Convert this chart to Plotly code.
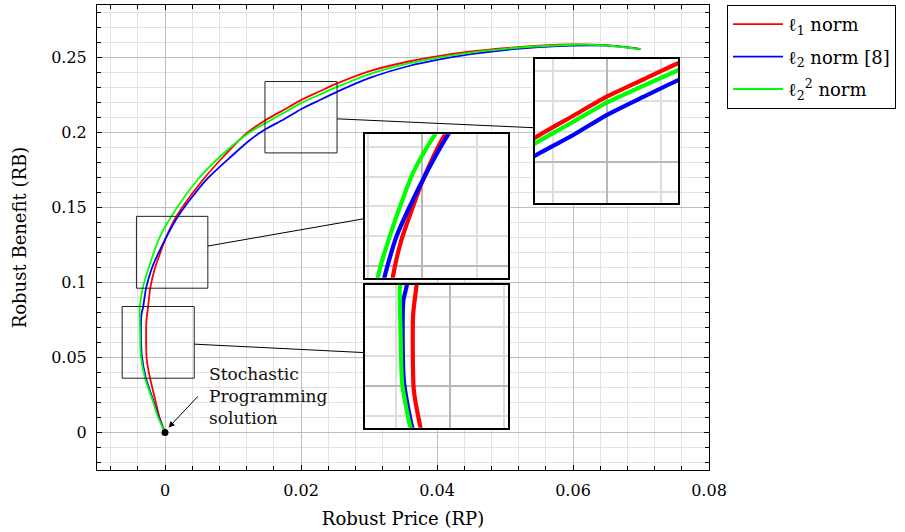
import plotly.graph_objects as go

# ---------------- data ----------------
red_x = [0, -0.0008, -0.0014, -0.0022, -0.00269, -0.00274, -0.0025, -0.00216, -0.00154, -0.00069,
         0.00004, 0.00164, 0.0055, 0.0086, 0.0120, 0.0147, 0.0175, 0.0200, 0.0227, 0.0253,
         0.030, 0.036, 0.040, 0.045, 0.050, 0.055, 0.060, 0.065, 0.0699]
red_y = [0, 0.010, 0.0211, 0.0363, 0.0488, 0.0740, 0.0833, 0.0964, 0.1087, 0.1199,
         0.1288, 0.1439, 0.1680, 0.1840, 0.1995, 0.2080, 0.2152, 0.2216, 0.2273, 0.2327,
         0.2408, 0.2475, 0.2508, 0.2540, 0.2563, 0.2579, 0.2587, 0.2582, 0.2558]

blue_x = [0, -0.0009, -0.0017, -0.00281, -0.00343, -0.00347, -0.00323, -0.00277, -0.00191, -0.00093,
          0.00029, 0.00188, 0.00593, 0.00985, 0.0125, 0.0147, 0.0175, 0.0200, 0.0227, 0.0253,
          0.030, 0.036, 0.040, 0.045, 0.050, 0.055, 0.060, 0.065, 0.0699]
blue_y = [0, 0.010, 0.0211, 0.0363, 0.0520, 0.0784, 0.0833, 0.0964, 0.1098, 0.1199,
          0.1311, 0.1439, 0.1678, 0.1845, 0.1950, 0.2020, 0.2088, 0.2155, 0.2215, 0.2271,
          0.2362, 0.2445, 0.2484, 0.2522, 0.2550, 0.2569, 0.2580, 0.2579, 0.2556]

green_x = [0, -0.0010, -0.0018, -0.00294, -0.00355, -0.00367, -0.00372, -0.00326, -0.00216, -0.00069,
           0.0009, 0.0047, 0.0081, 0.0121, 0.0147, 0.0175, 0.0200, 0.0227, 0.0253,
           0.030, 0.036, 0.040, 0.045, 0.050, 0.055, 0.060, 0.065, 0.0699]
green_y = [0, 0.010, 0.0211, 0.0363, 0.0510, 0.0685, 0.0833, 0.0964, 0.1132, 0.1311,
           0.1439, 0.1680, 0.1840, 0.1990, 0.2061, 0.2132, 0.2196, 0.2252, 0.2304,
           0.2388, 0.2462, 0.2498, 0.2533, 0.2558, 0.2575, 0.2585, 0.2580, 0.2556]

series_names = ["ℓ<sub>1</sub> norm", "ℓ<sub>2</sub> norm [8]", "ℓ<sub>2</sub><sup>2</sup> norm"]
series_colors = ["#ff0000", "#0000ff", "#00ff00"]

sp_x = [0.0]
sp_y = [0.0]
sp_label = "Stochastic<br>Programming<br>solution"

# zoomed (spy) regions: [x0, x1], [y0, y1]
spy_x = [[0.0147, 0.0253], [-0.0042, 0.0063], [-0.0063, 0.0043]]
spy_y = [[0.1864, 0.2340], [0.0962, 0.1441], [0.0362, 0.0840]]

x_range = [-0.01, 0.08]
y_range = [-0.025, 0.285]

# ---------------- layout constants ----------------
W, H = 905, 532
ML, MR, MT, MB = 97, 196, 5, 62
inset_dom_x = [[0.7157, 0.9498], [0.4379, 0.6721], [0.4379, 0.6721]]
inset_dom_y = [[0.5748, 0.8832], [0.4135, 0.7219], [0.0910, 0.3985]]

FONT = "DejaVu Serif"

fig = go.Figure()

xs = [red_x, blue_x, green_x]
ys = [red_y, blue_y, green_y]

for i in range(3):
    fig.add_trace(go.Scatter(x=xs[i], y=ys[i], mode="lines", name=series_names[i],
                             legendgroup="g%d" % i,
                             line=dict(color=series_colors[i], width=1.8,
                                       shape="spline", smoothing=0.8),
                             xaxis="x", yaxis="y"))

fig.add_trace(go.Scatter(x=sp_x, y=sp_y, mode="markers", showlegend=False,
                         marker=dict(color="black", size=7), xaxis="x", yaxis="y"))

for k in range(3):
    ax = str(k + 2)
    for i in range(3):
        fig.add_trace(go.Scatter(x=xs[i], y=ys[i], mode="lines", showlegend=False,
                                 line=dict(color=series_colors[i], width=4.2,
                                           shape="spline", smoothing=0.6),
                                 xaxis="x" + ax, yaxis="y" + ax, hoverinfo="skip"))

main_common = dict(showline=True, linecolor="black", linewidth=1, mirror="allticks",
                   ticks="inside", ticklen=5, tickcolor="black", zeroline=False,
                   showgrid=True, gridcolor="#bdbdbd", gridwidth=1,
                   tickfont=dict(family=FONT, size=16, color="black"),
                   ticklabelstandoff=6)

layout = dict(
    width=W, height=H,
    margin=dict(l=ML, r=MR, t=MT, b=MB),
    paper_bgcolor="white", plot_bgcolor="white",
    font=dict(family=FONT, color="black"),
    xaxis=dict(range=x_range, domain=[0, 1], tick0=0, dtick=0.02,
               minor=dict(dtick=0.004, tick0=0, showgrid=True, gridcolor="#e2e2e2",
                          ticks="inside", ticklen=4, tickcolor="black"),
               title=dict(text="Robust Price (RP)", font=dict(family=FONT, size=18), standoff=13),
               **main_common),
    yaxis=dict(range=y_range, domain=[0, 1], tick0=0, dtick=0.05,
               minor=dict(dtick=0.01, tick0=0, showgrid=True, gridcolor="#e2e2e2",
                          ticks="inside", ticklen=4, tickcolor="black"),
               title=dict(text="Robust Benefit (RB)", font=dict(family=FONT, size=18), standoff=19),
               **main_common),
    legend=dict(x=(727 - ML) / (W - ML - MR), y=1.0, xanchor="left", yanchor="top",
                bordercolor="black", borderwidth=1, bgcolor="white",
                traceorder="grouped", tracegroupgap=6, itemwidth=50,
                font=dict(family=FONT, size=18, color="black")),
    showlegend=True,
)

for k in range(3):
    ax = str(k + 2)
    inset_common = dict(showline=True, linecolor="black", linewidth=2.2, mirror=True,
                        ticks="", showticklabels=False, zeroline=False,
                        showgrid=True, gridcolor="#b8b8b8", gridwidth=2, fixedrange=True)
    layout["xaxis" + ax] = dict(range=spy_x[k], domain=inset_dom_x[k], anchor="y" + ax,
                                tick0=0, dtick=0.02,
                                minor=dict(dtick=0.004, tick0=0, showgrid=True,
                                           gridcolor="#dedede", gridwidth=2),
                                **inset_common)
    layout["yaxis" + ax] = dict(range=spy_y[k], domain=inset_dom_y[k], anchor="x" + ax,
                                tick0=0, dtick=0.05,
                                minor=dict(dtick=0.01, tick0=0, showgrid=True,
                                           gridcolor="#dedede", gridwidth=2),
                                **inset_common)

fig.update_layout(**layout)

# spy rectangles and connecting lines
def to_paper_x(v):
    return (v - x_range[0]) / (x_range[1] - x_range[0])

def to_paper_y(v):
    return (v - y_range[0]) / (y_range[1] - y_range[0])

for k in range(3):
    fig.add_shape(type="rect", xref="x", yref="y",
                  x0=spy_x[k][0], x1=spy_x[k][1], y0=spy_y[k][0], y1=spy_y[k][1],
                  line=dict(color="#222222", width=1), layer="above")
    bx0, bx1 = to_paper_x(spy_x[k][0]), to_paper_x(spy_x[k][1])
    by0, by1 = to_paper_y(spy_y[k][0]), to_paper_y(spy_y[k][1])
    bcx, bcy = (bx0 + bx1) / 2, (by0 + by1) / 2
    ix0, ix1 = inset_dom_x[k]
    iy0, iy1 = inset_dom_y[k]
    icx, icy = (ix0 + ix1) / 2, (iy0 + iy1) / 2
    t1 = (bx1 - bcx) / (icx - bcx)
    t2 = (ix0 - bcx) / (icx - bcx)
    fig.add_shape(type="line", xref="paper", yref="paper",
                  x0=bcx + t1 * (icx - bcx), y0=bcy + t1 * (icy - bcy),
                  x1=bcx + t2 * (icx - bcx), y1=bcy + t2 * (icy - bcy),
                  line=dict(color="black", width=1), layer="above")

# annotation for the stochastic programming solution
fig.add_annotation(x=0.00620, y=0.0245, xref="x", yref="y", text=sp_label,
                   showarrow=False, xanchor="left", yanchor="middle", align="left",
                   font=dict(family=FONT, size=17, color="#111111"))
fig.add_annotation(x=0.00053, y=0.0033, xref="x", yref="y", ax=0.00504, ay=0.0251,
                   axref="x", ayref="y", text="", showarrow=True, arrowhead=2,
                   arrowsize=1.2, arrowwidth=1, arrowcolor="black")

fig.write_html("out.html")
